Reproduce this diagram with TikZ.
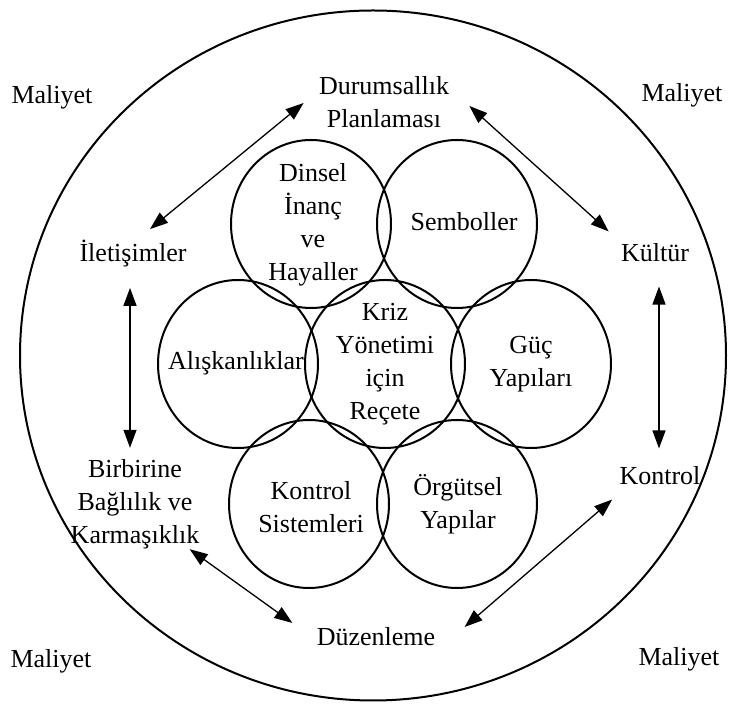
\documentclass[tikz,border=0pt]{standalone}
\usepackage{fontspec}
\setmainfont{Liberation Serif}
\usetikzlibrary{arrows.meta}

\tikzset{
  lbl/.style={inner sep=0pt,align=center,font=\fontsize{13pt}{16.5pt}\selectfont},
  ring/.style={line width=1pt},
  link/.style={<->,line width=0.65pt},
}

\begin{document}
\begin{tikzpicture}[line cap=round,line join=round,>={Triangle[length=9pt,width=6.5pt]},x=0.5pt,y=-0.5pt]
\useasboundingbox (0,0) rectangle (729,704);
% outer ring
\draw[ring] (373,355.5) ellipse [x radius=176.5pt, y radius=172.5pt];
% inner circles
\draw[ring] (385,364) ellipse [x radius=40pt, y radius=42pt];
\draw[ring] (311,224) ellipse [x radius=40pt, y radius=42pt];
\draw[ring] (457,224) ellipse [x radius=40pt, y radius=42pt];
\draw[ring] (238,364) ellipse [x radius=40pt, y radius=42pt];
\draw[ring] (531,364) ellipse [x radius=40pt, y radius=42pt];
\draw[ring] (309,504) ellipse [x radius=40pt, y radius=42pt];
\draw[ring] (457,504) ellipse [x radius=40pt, y radius=42pt];
% texts in circles
\node[lbl] (kriz) at (385,364.5) {Kriz\\Yönetimi\\için\\Reçete};
\node[lbl] (dinsel) at (313,224.5) {Dinsel\\İnanç\\ve\\Hayaller};
\node[lbl] (semb) at (464,222) {Semboller};
\node[lbl] (alis) at (236,363) {Alışkanlıklar};
\node[lbl] (guc) at (531,364) {Güç\\Yapıları};
\node[lbl] (ksis) at (311,507) {Kontrol\\Sistemleri};
\node[lbl] (orgut) at (458,504) {Örgütsel\\Yapılar};
% outer labels
\node[lbl] (plan) at (384,102) {Durumsallık\\Planlaması};
\node[lbl] (ilet) at (133,254) {İletişimler};
\node[lbl] (kultur) at (655,253) {Kültür};
\node[lbl] (bagl) at (135,504) {Birbirine\\Bağlılık ve\\Karmaşıklık};
\node[lbl] (kontrol) at (660,476) {Kontrol};
\node[lbl] (duzen) at (376,637) {Düzenleme};
\node[lbl] (mal1) at (52,97) {Maliyet};
\node[lbl] (mal2) at (682,95) {Maliyet};
\node[lbl] (mal3) at (51,661) {Maliyet};
\node[lbl] (mal4) at (679,659) {Maliyet};
% arrows
\draw[link] ([xshift=-7.5pt,yshift=-0.5pt]plan.west) -- ([xshift=8.5pt,yshift=5.5pt]ilet.north);
\draw[link] ([xshift=10pt,yshift=-2pt]plan.east) -- ([xshift=-6pt,yshift=6pt]kultur.north west);
\draw[link] ([xshift=-1.5pt,yshift=-10pt]ilet.south) -- ([xshift=-2.5pt,yshift=5.5pt]bagl.north);
\draw[link] ([xshift=2pt,yshift=-12pt]kultur.south) -- ([xshift=-0.5pt,yshift=9pt]kontrol.north);
\draw[link] ([xshift=-5pt]bagl.south east) -- ([xshift=-12pt,yshift=7pt]duzen.west);
\draw[link] ([xshift=-3.5pt,yshift=-7pt]kontrol.south west) -- ([xshift=14.5pt,yshift=5pt]duzen.east);
\end{tikzpicture}
\end{document}
